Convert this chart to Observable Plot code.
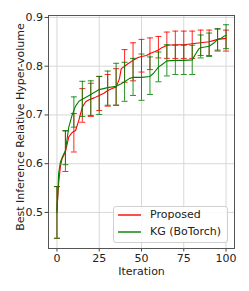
<!DOCTYPE html>
<html>
<head>
<meta charset="utf-8">
<script src="https://cdn.jsdelivr.net/npm/d3@7"></script>
<script src="https://cdn.jsdelivr.net/npm/@observablehq/plot@0.6"></script>
<style>
  html, body { margin: 0; padding: 0; background: #fff; }
  #wrap { position: relative; width: 249px; height: 291px; font-family: "DejaVu Sans", sans-serif; }
  #legend { position: absolute; left: 113px; top: 206px; width: 115px; height: 37px;
    border: 1px solid #d0d0d0; border-radius: 3px; background: rgba(255,255,255,0.85); box-sizing: border-box; }
  .row { position: absolute; left: 0; height: 14px; font-size: 11px; color: #222; white-space: nowrap; }
  .sw { position: absolute; left: 4px; top: 6px; width: 23px; height: 0; }
  .lbl { position: absolute; left: 36px; top: 0; line-height: 14px; }
</style>
</head>
<body>
<div id="wrap"></div>
<script>
// ---- data ----
const seriesNames = ["Proposed", "KG (BoTorch)"];
const seriesColors = ["red", "green"];

const iterP = [0,1,2,3,5,7,9,11,13,15,17,19,22,25,28,30,33,35,37,38,40,42,45,48,50,53,55,58,60,62,65,70,75,80,85,90,93,95,100];
const meanP = [0.505,0.56,0.593,0.61,0.624,0.655,0.664,0.668,0.69,0.716,0.727,0.731,0.735,0.740,0.745,0.750,0.755,0.757,0.775,0.795,0.800,0.805,0.812,0.818,0.820,0.822,0.826,0.830,0.833,0.838,0.843,0.844,0.844,0.846,0.848,0.850,0.853,0.855,0.857];

const iterK = [0,1,2,3,5,7,9,11,13,15,18,20,23,25,30,35,38,40,43,45,50,55,57,60,62,65,70,75,80,82,84,85,90,93,95,97,99,100];
const meanK = [0.50,0.58,0.603,0.612,0.627,0.675,0.70,0.718,0.728,0.732,0.738,0.742,0.748,0.752,0.756,0.759,0.764,0.768,0.775,0.777,0.777,0.779,0.785,0.798,0.803,0.811,0.812,0.812,0.813,0.825,0.836,0.838,0.841,0.848,0.855,0.857,0.862,0.863];

const barIters = [0,5,10,15,20,25,30,35,40,45,50,55,60,65,70,75,80,85,90,95,100];
const lowP  = [0.447,0.584,0.624,0.685,0.697,0.709,0.718,0.720,0.767,0.770,0.788,0.793,0.817,0.816,0.816,0.816,0.816,0.822,0.822,0.831,0.831];
const highP = [0.553,0.667,0.703,0.754,0.765,0.779,0.783,0.795,0.834,0.848,0.855,0.858,0.861,0.870,0.872,0.872,0.872,0.874,0.874,0.876,0.874];
const lowK  = [0.447,0.598,0.675,0.697,0.699,0.701,0.720,0.720,0.728,0.740,0.730,0.742,0.768,0.780,0.783,0.783,0.783,0.817,0.820,0.833,0.836];
const highK = [0.553,0.668,0.737,0.769,0.770,0.779,0.790,0.806,0.808,0.816,0.825,0.819,0.829,0.844,0.843,0.843,0.843,0.864,0.868,0.877,0.885];

const xTicks = [0, 25, 50, 75, 100];
const yTicks = [0.5, 0.6, 0.7, 0.8, 0.9];
const xLabel = "Iteration";
const yLabel = "Best Inference Relative Hyper-volume";

// ---- build tables ----
const lineP = iterP.map((x, i) => ({x, y: meanP[i]}));
const lineK = iterK.map((x, i) => ({x, y: meanK[i]}));
const barsP = barIters.map((x, i) => ({x, lo: lowP[i], hi: highP[i]}));
const barsK = barIters.map((x, i) => ({x, lo: lowK[i], hi: highK[i]}));

const capSymbol = {
  draw(context, size) {
    const r = Math.sqrt(size / Math.PI);
    context.moveTo(-r, 0);
    context.lineTo(r, 0);
  }
};

function errMarks(bars, color) {
  return [
    Plot.ruleX(bars, {x: "x", y1: "lo", y2: "hi", stroke: color, strokeWidth: 1, strokeOpacity: 0.85}),
    Plot.dot(bars, {x: "x", y: "lo", symbol: capSymbol, r: 3, stroke: color, strokeWidth: 1, strokeOpacity: 0.85}),
    Plot.dot(bars, {x: "x", y: "hi", symbol: capSymbol, r: 3, stroke: color, strokeWidth: 1, strokeOpacity: 0.85})
  ];
}

const chart = Plot.plot({
  width: 249,
  height: 291,
  marginLeft: 48,
  marginRight: 15,
  marginTop: 15,
  marginBottom: 43,
  style: {fontFamily: "DejaVu Sans, sans-serif", fontSize: "11px", color: "#222", background: "#fff"},
  x: {domain: [-5, 105]},
  y: {domain: [0.426, 0.904]},
  marks: [
    Plot.gridX(xTicks, {stroke: "#d4d4d4", strokeOpacity: 1, strokeWidth: 0.9}),
    Plot.gridY(yTicks, {stroke: "#d4d4d4", strokeOpacity: 1, strokeWidth: 0.9}),
    Plot.axisX(xTicks, {tickSize: 3.5, tickPadding: 2, fontSize: 11, label: null, stroke: "#444", fill: "#222"}),
    Plot.axisY(yTicks, {tickSize: 3.5, tickPadding: 2, fontSize: 11, label: null, tickFormat: ".1f", stroke: "#444", fill: "#222"}),
    Plot.text([xLabel], {text: d => d, frameAnchor: "bottom", lineAnchor: "middle", textAnchor: "middle", dy: 23, fontSize: 11, fill: "#222"}),
    Plot.text([yLabel], {text: d => d, frameAnchor: "left", textAnchor: "middle", lineAnchor: "middle", rotate: -90, dx: -28, dy: -5, fontSize: 11, fill: "#222"}),
    ...errMarks(barsP, seriesColors[0]),
    Plot.line(lineP, {x: "x", y: "y", stroke: seriesColors[0], strokeWidth: 1.1}),
    ...errMarks(barsK, seriesColors[1]),
    Plot.line(lineK, {x: "x", y: "y", stroke: seriesColors[1], strokeWidth: 1.1}),
    Plot.frame({stroke: "#555", strokeWidth: 1})
  ]
});

const wrap = document.getElementById("wrap");
wrap.appendChild(chart);

const legend = document.createElement("div");
legend.id = "legend";
seriesNames.forEach((name, i) => {
  const row = document.createElement("div");
  row.className = "row";
  row.style.top = (0.8 + i * 17.4) + "px";
  row.style.width = "100%";
  const sw = document.createElement("div");
  sw.className = "sw";
  sw.style.borderTop = "2px solid " + seriesColors[i];
  sw.style.opacity = "0.7";
  const lb = document.createElement("div");
  lb.className = "lbl";
  lb.textContent = name;
  row.appendChild(sw);
  row.appendChild(lb);
  legend.appendChild(row);
});
wrap.appendChild(legend);
</script>
</body>
</html>
